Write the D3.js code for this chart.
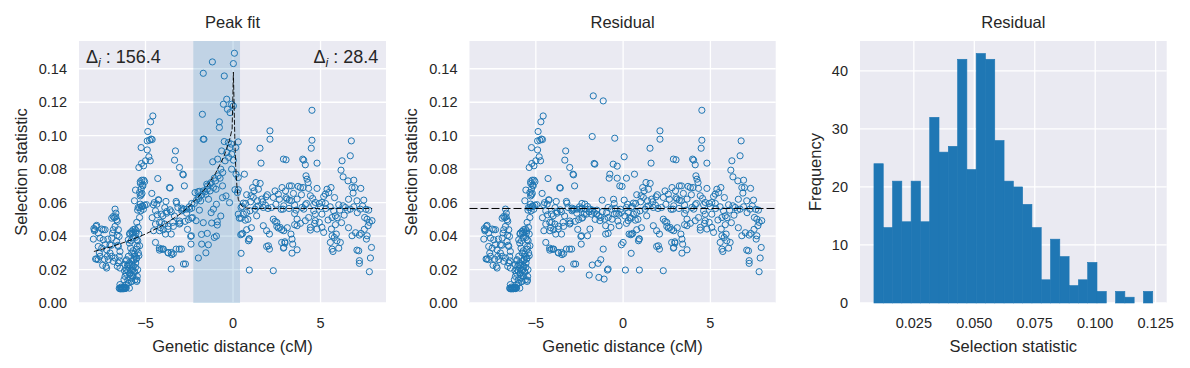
<!DOCTYPE html>
<html>
<head>
<meta charset="utf-8">
<script src="https://cdn.jsdelivr.net/npm/d3@7"></script>
<style>
  body { margin: 0; background: #ffffff; }
  svg text { font-family: "Liberation Sans", Arial, sans-serif; fill: #262626; }
</style>
</head>
<body>
<svg id="fig" width="1190" height="368"></svg>
<script>
// ---- datos ----
// puntos fuera de la ventana del pico (iguales en "Peak fit" y "Residual")
var flankPoints = [
  [-7.98,0.0382],[-7.89,0.0438],[-7.83,0.0458],[-7.79,0.0464],[-7.92,0.0432],[-7.70,0.0418],[-7.60,0.0388],[-7.50,0.0442],
  [-7.41,0.0438],[-7.31,0.0438],[-7.70,0.0338],[-7.64,0.0299],[-7.79,0.0263],[-7.70,0.0259],[-7.60,0.0279],[-7.50,0.0328],
  [-7.41,0.0378],[-7.31,0.0348],[-7.22,0.0318],[-7.18,0.0279],[-7.26,0.0219],[-7.22,0.0209],[-7.12,0.0259],[-7.03,0.0299],
  [-7.03,0.0348],[-6.93,0.0388],[-6.88,0.0418],[-6.84,0.0438],[-6.93,0.0507],[-6.84,0.0517],[-6.74,0.0561],[-6.65,0.0498],
  [-6.69,0.0537],[-6.61,0.0488],[-6.74,0.0458],[-6.55,0.0438],[-6.51,0.0398],[-6.65,0.0368],[-6.55,0.0338],[-6.46,0.0308],
  [-6.50,0.0279],[-6.55,0.0239],[-6.61,0.0219],[-6.46,0.0209],[-6.74,0.0269],[-6.84,0.0249],[-6.93,0.0279],[-7.95,0.0445],
  [-7.85,0.0263],[-7.45,0.0225],[-7.35,0.0262],[-7.15,0.0382],[-6.95,0.0345],[-6.78,0.0510],[-6.70,0.0515],[-6.58,0.0345],
  [-6.62,0.0405],[-6.48,0.0252],
  [-6.50,0.0088],[-6.46,0.0085],[-6.42,0.0086],[-6.38,0.0085],[-6.34,0.0087],[-6.30,0.0085],[-6.26,0.0086],[-6.22,0.0088],
  [-6.18,0.0086],[-6.14,0.0088],[-6.10,0.0090],[-6.46,0.0110],[-6.40,0.0095],[-6.32,0.0092],[-6.24,0.0094],[-6.16,0.0095],
  [-6.23,0.0139],[-6.17,0.0159],[-6.11,0.0179],[-6.08,0.0199],[-6.04,0.0219],[-5.98,0.0229],[-5.92,0.0239],[-5.89,0.0179],
  [-5.85,0.0149],[-5.79,0.0129],[-5.73,0.0199],[-5.70,0.0219],[-5.66,0.0259],[-5.60,0.0279],[-5.79,0.0299],[-5.85,0.0328],
  [-5.92,0.0358],[-5.98,0.0378],[-5.89,0.0418],[-5.79,0.0428],[-5.70,0.0438],[-5.60,0.0442],[-5.54,0.0418],[-5.50,0.0378],
  [-5.47,0.0338],[-5.41,0.0299],[-5.50,0.0269],[-5.56,0.0239],[-5.64,0.0189],[-5.73,0.0159],[-5.60,0.0139],[-5.50,0.0129],
  [-5.47,0.0159],[-5.45,0.0199],[-5.98,0.0279],[-6.08,0.0259],[-6.17,0.0229],[-6.11,0.0109],[-5.98,0.0119],[-5.92,0.0089],
  [-6.10,0.0253],[-6.01,0.0193],[-5.91,0.0223],[-6.20,0.0193],[-5.82,0.0372],[-5.72,0.0392],[-5.91,0.0412],[-5.76,0.0416],
  [-5.69,0.0422],[-5.53,0.0432],[-5.38,0.0412],[-5.57,0.0392],[-5.44,0.0372],[-5.34,0.0342],[-5.50,0.0322],[-5.72,0.0312],
  [-5.63,0.0293],[-5.38,0.0283],[-5.53,0.0263],[-5.69,0.0253],[-5.76,0.0229],[-5.57,0.0213],[-5.82,0.0197],[-5.63,0.0183],
  [-5.91,0.0173],[-5.72,0.0163],[-5.48,0.0137],[-6.01,0.0137],[-5.82,0.0129],
  [-5.42,0.0452],[-5.50,0.0482],[-5.34,0.0511],[-5.27,0.0551],[-5.42,0.0571],[-5.34,0.0571],[-5.15,0.0577],[-5.19,0.0581],
  [-5.30,0.0591],[-5.63,0.0611],[-5.57,0.0675],[-5.25,0.0647],[-5.34,0.0661],[-5.25,0.0681],[-5.15,0.0700],[-5.29,0.0714],
  [-5.10,0.0734],[-5.21,0.0734],[-5.38,0.0810],[-5.11,0.0820],[-5.23,0.0834],[-4.73,0.0850],[-5.00,0.0850],[-4.81,0.0874],
  [-4.90,0.0915],[-5.25,0.0929],[-4.90,0.0969],[-4.77,0.0973],[-4.62,0.0977],[-4.87,0.1025],[-4.71,0.1083],[-4.58,0.1118],
  [-4.68,0.0980],[-5.05,0.0725],[-5.18,0.0705],[-5.12,0.0560],[-5.22,0.0575],[-5.05,0.0585],[-5.45,0.0555],[-5.30,0.0640],
  [-5.20,0.0655],[-5.30,0.0725],[-4.95,0.0588],
  [-4.30,0.0744],[-4.64,0.0655],[-4.24,0.0615],[-4.35,0.0591],[-4.43,0.0551],[-4.10,0.0531],[-4.33,0.0527],[-4.01,0.0521],
  [-3.78,0.0547],[-3.53,0.0545],[-3.25,0.0607],[-3.29,0.0909],[-3.34,0.0854],[-3.06,0.0810],[-2.87,0.0770],[-3.63,0.0690],
  [-3.15,0.0571],[-4.20,0.0482],[-3.91,0.0472],[-4.43,0.0472],[-4.54,0.0432],[-4.20,0.0432],[-3.72,0.0442],[-3.44,0.0482],
  [-3.06,0.0472],[-3.86,0.0412],[-3.53,0.0412],[-4.43,0.0362],[-4.10,0.0322],[-4.20,0.0316],[-4.01,0.0322],[-3.72,0.0302],
  [-3.53,0.0302],[-3.25,0.0322],[-3.53,0.0203],[-3.06,0.0490],[-2.83,0.0233],[-2.84,0.0766],[-2.78,0.0700],[-3.60,0.0687],
  [-4.55,0.0587],[-4.27,0.0617],[-2.42,0.0398],[-2.55,0.0498],[-2.36,0.0507],[-2.36,0.0567],[-2.93,0.0567],[-3.22,0.0597],
  [-3.60,0.0557],[-3.83,0.0607],[-3.79,0.0537],[-4.08,0.0482],[-3.98,0.0438],[-3.70,0.0458],[-3.41,0.0458],[-3.03,0.0478],
  [-2.74,0.0488],[-2.65,0.0537],[-2.88,0.0557],[-4.21,0.0328],[-3.98,0.0322],[-3.70,0.0299],[-3.50,0.0289],[-3.41,0.0295],
  [-3.07,0.0322],[-2.50,0.0575],[-2.65,0.0561],[-2.80,0.0561],[-2.93,0.0551],[-2.72,0.0233],[-2.95,0.0322],[-2.38,0.0402],
  [-2.48,0.0561],[-2.40,0.0352],[-4.62,0.0510],[-4.50,0.0600],[-3.90,0.0570],[-3.35,0.0520],[-4.15,0.0450],[-2.60,0.0440],
  [-2.36,0.0595],[-2.32,0.0511],
  [0.46,0.0297],[0.93,0.0197],[2.30,0.0193],[0.46,0.0507],[0.55,0.0416],[0.50,0.0412],[0.91,0.0382],[0.88,0.0372],
  [0.46,0.0571],[0.72,0.0595],[0.78,0.0647],[1.03,0.0641],[1.12,0.0690],[1.31,0.0720],[1.54,0.0925],[1.60,0.0836],
  [2.11,0.1029],[2.11,0.0979],[2.88,0.0860],[1.16,0.0631],[1.39,0.0611],[1.64,0.0621],[1.89,0.0635],[1.96,0.0647],
  [2.40,0.0670],[2.59,0.0650],[2.30,0.0631],[1.45,0.0581],[1.73,0.0571],[1.26,0.0561],[0.97,0.0551],[0.78,0.0541],
  [0.59,0.0531],[1.35,0.0521],[1.73,0.0462],[1.92,0.0432],[2.08,0.0412],[2.02,0.0342],[2.08,0.0322],[2.30,0.0501],
  [2.50,0.0482],[2.69,0.0452],[2.78,0.0362],[2.20,0.0571],[0.65,0.0770],[0.44,0.0408],[0.93,0.0384],[0.78,0.0438],
  [0.59,0.0597],[0.53,0.0577],[1.92,0.0338],[2.88,0.0328],[2.97,0.0358],[2.78,0.0438],[2.40,0.0488],[2.50,0.0458],
  [2.59,0.0448],[0.85,0.0500],[1.00,0.0605],[1.20,0.0670],[1.45,0.0680],[1.55,0.0715],[1.70,0.0605],[1.85,0.0585],
  [2.00,0.0565],[2.45,0.0590],[2.65,0.0620],[2.75,0.0560],[1.05,0.0450],[1.35,0.0575],[0.70,0.0495],
  [4.51,0.1152],[4.51,0.0973],[4.47,0.0925],[6.76,0.0969],[6.70,0.0880],[3.03,0.0856],[3.98,0.0860],[4.04,0.0854],
  [4.13,0.0826],[4.80,0.0836],[6.23,0.0850],[6.17,0.0794],[6.29,0.0754],[6.57,0.0730],[6.90,0.0734],[4.17,0.0760],
  [4.23,0.0740],[4.29,0.0720],[2.80,0.0690],[3.22,0.0700],[3.34,0.0700],[3.72,0.0697],[3.85,0.0690],[4.32,0.0685],
  [4.80,0.0685],[5.37,0.0680],[5.47,0.0660],[5.28,0.0651],[5.18,0.0637],[6.80,0.0690],[6.95,0.0690],[6.86,0.0657],
  [3.00,0.0670],[3.08,0.0621],[3.22,0.0615],[3.66,0.0621],[3.91,0.0647],[4.42,0.0641],[4.70,0.0601],[4.93,0.0595],
  [5.08,0.0601],[5.28,0.0595],[4.61,0.0587],[4.13,0.0587],[4.04,0.0561],[3.52,0.0585],[2.90,0.0581],[2.86,0.0561],
  [6.04,0.0587],[6.29,0.0581],[6.42,0.0571],[6.70,0.0561],[7.08,0.0611],[7.47,0.0615],[7.27,0.0561],[7.75,0.0555],
  [7.52,0.0511],[7.66,0.0501],[7.94,0.0492],[7.79,0.0482],[3.52,0.0535],[4.70,0.0531],[5.08,0.0531],[5.75,0.0551],
  [5.66,0.0511],[5.85,0.0521],[5.43,0.0496],[4.70,0.0492],[4.93,0.0482],[3.66,0.0501],[3.66,0.0462],[3.85,0.0476],
  [3.52,0.0468],[4.42,0.0452],[4.80,0.0442],[5.08,0.0452],[5.18,0.0422],[5.85,0.0468],[5.62,0.0442],[5.90,0.0412],
  [5.66,0.0402],[5.79,0.0392],[5.94,0.0372],[6.13,0.0362],[5.56,0.0362],[5.66,0.0322],[6.04,0.0328],[5.71,0.0308],
  [6.80,0.0402],[7.31,0.0416],[7.22,0.0406],[7.66,0.0402],[7.72,0.0462],[7.62,0.0382],[7.91,0.0332],[7.08,0.0316],
  [7.18,0.0312],[7.22,0.0253],[7.22,0.0237],[7.85,0.0269],[7.79,0.0187],[3.31,0.0412],[3.37,0.0382],[3.41,0.0352],
  [3.66,0.0318],[3.37,0.0298],[2.90,0.0432],[2.96,0.0366],[2.90,0.0332],[4.42,0.0436],[4.66,0.0476],[4.32,0.0511],
  [4.13,0.0492],[4.61,0.0551],[3.94,0.0571],[3.03,0.0630],[3.34,0.0611],
  [3.20,0.0565],[3.60,0.0555],[4.20,0.0595],[4.55,0.0625],[5.00,0.0575],[5.30,0.0565],[5.55,0.0575],[6.10,0.0555],
  [6.35,0.0525],[6.55,0.0555],[6.90,0.0575],[7.10,0.0540],[7.40,0.0580],[7.60,0.0560],[5.95,0.0510],[6.20,0.0480],
  [6.60,0.0450],[7.00,0.0420],[7.50,0.0440],[3.10,0.0450],[3.45,0.0655],[4.00,0.0690],[5.60,0.0690],[5.80,0.0630],
  [6.60,0.0620],[7.30,0.0685]
];

// puntos dentro de la ventana del pico, panel "Peak fit"
var peakPoints = [
  [0.08,0.1493],[0.02,0.1431],[-1.18,0.1441],[-1.70,0.1373],[-0.50,0.1357],[-0.36,0.1218],[-0.55,0.1188],[-0.08,0.1188],
  [-0.32,0.1158],[-0.17,0.1138],[0.02,0.1178],[-1.75,0.1128],[-0.78,0.1083],[-0.78,0.1049],[-1.70,0.0979],[-1.66,0.0979],
  [-0.50,0.0965],[-0.27,0.0959],[0.30,0.0963],[-0.65,0.0909],[-0.36,0.0899],[-0.08,0.0890],[-0.17,0.0929],[0.15,0.0929],
  [-1.16,0.0844],[-0.88,0.0860],[0.02,0.0854],[-0.08,0.0800],[-0.59,0.0780],[-0.74,0.0746],[-1.07,0.0746],[-1.31,0.0710],
  [-1.50,0.0710],[-1.12,0.0690],[-0.97,0.0680],[-1.47,0.0680],[-1.70,0.0670],[-1.92,0.0667],[-2.17,0.0660],[-1.79,0.0647],
  [-1.98,0.0635],[-2.08,0.0615],[-2.21,0.0595],[-1.31,0.0670],[0.17,0.0770],[0.30,0.0677],[0.11,0.0677],[-1.92,0.0555],
  [-1.12,0.0561],[-2.11,0.0492],[-1.22,0.0478],[-0.90,0.0486],[-0.90,0.0466],[-1.07,0.0392],[-1.47,0.0416],[-1.79,0.0352],
  [-1.41,0.0348],[-1.98,0.0269],[0.36,0.0507],[0.30,0.0531],
  [-1.60,0.0665],[-1.45,0.0700],[-1.25,0.0720],[-1.00,0.0730],[-0.85,0.0760],[-0.70,0.0800],[-0.45,0.0850],[-0.25,0.0870],
  [-0.60,0.0700],[-1.95,0.0625],[-2.00,0.0665],[-1.85,0.0610],[-1.55,0.0650],[-0.40,0.0640],[-0.20,0.0600],[-0.95,0.0590],
  [-1.40,0.0620],[-0.70,0.0520],[-1.70,0.0480],[-1.25,0.0540],[0.25,0.0660],[0.30,0.0750],[-0.10,0.0950],[-1.55,0.0300],
  [-0.95,0.0400],[-1.80,0.0410],[-0.60,0.0630]
];

// los mismos puntos tras restar el pico, panel "Residual"
var peakResidualPoints = [
  [-1.71,0.1238],[-1.14,0.1208],[-1.77,0.0995],[-0.48,0.0985],[-1.66,0.0834],[-1.62,0.0830],[0.06,0.0874],[-0.57,0.0830],
  [-0.34,0.0818],[-0.76,0.0770],[-0.80,0.0746],[-0.34,0.0746],[-0.19,0.0700],[-0.06,0.0697],[0.19,0.0746],[-1.20,0.0615],
  [-0.51,0.0595],[0.06,0.0615],[-0.86,0.0571],[-0.67,0.0561],[-2.19,0.0591],[-2.04,0.0577],[-1.90,0.0561],[-2.23,0.0531],
  [-2.10,0.0531],[-1.81,0.0531],[-1.66,0.0541],[-1.52,0.0531],[-1.39,0.0521],[-1.28,0.0511],[-1.33,0.0492],[-1.05,0.0501],
  [-0.86,0.0511],[-0.63,0.0501],[-0.51,0.0531],[-0.38,0.0535],[-0.25,0.0531],[-0.10,0.0541],[0.19,0.0571],[0.29,0.0492],
  [0.19,0.0476],[0.38,0.0511],[-1.00,0.0462],[-0.70,0.0452],[-0.23,0.0462],[-1.90,0.0442],[-2.04,0.0402],[-0.86,0.0416],
  [-1.00,0.0412],[0.34,0.0412],[-0.10,0.0348],[0.00,0.0362],[-1.14,0.0322],[-1.28,0.0259],[-1.43,0.0237],[-1.77,0.0227],
  [-0.90,0.0197],[-0.86,0.0203],[-1.94,0.0167],[-1.39,0.0153],[-1.09,0.0143],[0.13,0.0197],
  [-1.50,0.0555],[-1.95,0.0545],[-1.20,0.0545],[-0.95,0.0540],[-0.45,0.0565],[-0.15,0.0560],[0.10,0.0520],[0.30,0.0540],
  [-1.60,0.0500],[-0.30,0.0490],[-2.15,0.0560],[-1.75,0.0555],[0.25,0.0590],[-0.55,0.0620]
];

// curva ajustada (linea discontinua del panel 1)
var fitX = [-7.95,-7,-6,-5,-4,-3,-2.5,-2,-1.5,-1,-0.5,-0.2,-0.05,0.02,0.1,0.15,0.22,0.3,0.4,0.55,0.75,1.0,2,4,6,7.95];
var fitY = [0.0308,0.0335,0.0370,0.0412,0.0465,0.0533,0.0578,0.0632,0.0695,0.0775,0.0880,0.0975,0.1040,0.1380,0.0995,
            0.0820,0.0700,0.0620,0.0595,0.0575,0.0568,0.0565,0.0565,0.0565,0.0565,0.0565];

var peakWindow = [-2.27, 0.40];
var baseline = 0.0565;
var deltaLabels = ["156.4", "28.4"];

// histograma de residuos (30 bins)
var histCounts = [24,13,21,14,21,14,32,26,27,42,23,43,42,28,21,20,17,13,4,11,8,3,4,7,2,0,2,1,0,2];
var histRange = [0.0085, 0.1238];

var scatterXTicks = [-5, 0, 5];
var scatterYTicks = [0, 0.02, 0.04, 0.06, 0.08, 0.10, 0.12, 0.14];
var histXTicks = [0.025, 0.050, 0.075, 0.100, 0.125];
var histYTicks = [0, 10, 20, 30, 40];

// ---- dibujo ----
var svg = d3.select("#fig");
var top_ = 41, bottom = 303;
var blue = "#1f77b4";
var minus = function(s) { return s.replace("-", "\u2212"); };

function frame(left, right, x, y, xTicks, yTicks, fx, fy, title, xlabel, ylabel, ylabelX) {
  var g = svg.append("g");
  g.append("rect")
    .attr("x", left).attr("y", top_)
    .attr("width", right - left).attr("height", bottom - top_)
    .attr("fill", "#eaeaf2");
  // rejilla
  g.selectAll(".gx").data(xTicks).enter().append("line")
    .attr("x1", d => x(d)).attr("x2", d => x(d))
    .attr("y1", top_).attr("y2", bottom)
    .attr("stroke", "#fff").attr("stroke-width", 1.3);
  g.selectAll(".gy").data(yTicks).enter().append("line")
    .attr("x1", left).attr("x2", right)
    .attr("y1", d => y(d)).attr("y2", d => y(d))
    .attr("stroke", "#fff").attr("stroke-width", 1.3);
  // etiquetas de ticks
  g.selectAll(".tx").data(xTicks).enter().append("text")
    .attr("x", d => x(d)).attr("y", 327.7)
    .attr("text-anchor", "middle").style("font-size", "14.5px")
    .text(d => minus(fx(d)));
  g.selectAll(".ty").data(yTicks).enter().append("text")
    .attr("x", left - 12).attr("y", d => y(d)).attr("dy", "0.36em")
    .attr("text-anchor", "end").style("font-size", "14.5px")
    .text(d => fy(d));
  // titulos
  g.append("text").attr("x", (left + right) / 2).attr("y", 28.3)
    .attr("text-anchor", "middle").style("font-size", "16.5px").text(title);
  g.append("text").attr("x", (left + right) / 2).attr("y", 352)
    .attr("text-anchor", "middle").style("font-size", "16.5px").text(xlabel);
  g.append("text")
    .attr("transform", "translate(" + ylabelX + "," + ((top_ + bottom) / 2) + ") rotate(-90)")
    .attr("text-anchor", "middle").style("font-size", "16.5px").text(ylabel);
  return g;
}

function scatter(g, pts, x, y) {
  g.selectAll(null).data(pts).enter().append("circle")
    .attr("cx", d => x(d[0])).attr("cy", d => y(d[1]))
    .attr("r", 3.1)
    .attr("fill", "none").attr("stroke", blue).attr("stroke-width", 1);
}

var fmt2 = d3.format(".2f");
var fmtInt = d3.format("d");

// Panel 1: Peak fit
var x1 = d3.scaleLinear().domain([-8.8, 8.74]).range([79, 386]);
var y1 = d3.scaleLinear().domain([0, 0.1566]).range([bottom, top_]);
var g1 = frame(79, 386, x1, y1, scatterXTicks, scatterYTicks, fmtInt, fmt2,
  "Peak fit", "Genetic distance (cM)", "Selection statistic", 26.8);

g1.append("rect")
  .attr("x", x1(peakWindow[0])).attr("y", top_)
  .attr("width", x1(peakWindow[1]) - x1(peakWindow[0])).attr("height", bottom - top_)
  .attr("fill", blue).attr("fill-opacity", 0.2);

scatter(g1, flankPoints, x1, y1);
scatter(g1, peakPoints, x1, y1);

var fitLine = d3.line().x(d => x1(d[0])).y(d => y1(d[1]));
g1.append("path")
  .datum(d3.zip(fitX, fitY))
  .attr("d", fitLine)
  .attr("fill", "none").attr("stroke", "#000").attr("stroke-width", 0.9)
  .attr("stroke-dasharray", "5,2");

var tl = g1.append("text").attr("x", 86).attr("y", 62.7).style("font-size", "18px");
tl.append("tspan").text("\u0394");
tl.append("tspan").attr("dy", 4).style("font-style", "italic").style("font-size", "12.5px").text("i");
tl.append("tspan").attr("dy", -4).text(" : " + deltaLabels[0]);

var tr = g1.append("text").attr("x", 378.3).attr("y", 62.7).attr("text-anchor", "end").style("font-size", "18px");
tr.append("tspan").text("\u0394");
tr.append("tspan").attr("dy", 4).style("font-style", "italic").style("font-size", "12.5px").text("i");
tr.append("tspan").attr("dy", -4).text(" : " + deltaLabels[1]);

// Panel 2: Residual
var x2 = d3.scaleLinear().domain([-8.8, 8.74]).range([469.5, 775.7]);
var y2 = d3.scaleLinear().domain([0, 0.1566]).range([bottom, top_]);
var g2 = frame(469.5, 775.7, x2, y2, scatterXTicks, scatterYTicks, fmtInt, fmt2,
  "Residual", "Genetic distance (cM)", "Selection statistic", 416.8);

scatter(g2, flankPoints, x2, y2);
scatter(g2, peakResidualPoints, x2, y2);

g2.append("line")
  .attr("x1", 469.5).attr("x2", 775.7)
  .attr("y1", y2(baseline)).attr("y2", y2(baseline))
  .attr("stroke", "#000").attr("stroke-width", 1)
  .attr("stroke-dasharray", "8,3");

// Panel 3: histograma
var x3 = d3.scaleLinear().domain([0.00273, 0.12957]).range([860, 1166.7]);
var y3 = d3.scaleLinear().domain([0, 45.15]).range([bottom, top_]);
var g3 = frame(860, 1166.7, x3, y3, histXTicks, histYTicks, d3.format(".3f"), fmtInt,
  "Residual", "Selection statistic", "Frequency", 821);

var binW = (histRange[1] - histRange[0]) / histCounts.length;
var bins = histCounts.map(function(c, i) {
  return { x0: histRange[0] + i * binW, x1: histRange[0] + (i + 1) * binW, n: c };
});
g3.selectAll(".bar").data(bins.filter(b => b.n > 0)).enter().append("rect")
  .attr("class", "bar")
  .attr("x", d => x3(d.x0))
  .attr("width", d => x3(d.x1) - x3(d.x0))
  .attr("y", d => y3(d.n))
  .attr("height", d => y3(0) - y3(d.n))
  .attr("fill", blue)
  .attr("stroke", blue).attr("stroke-width", 0.6);
</script>
</body>
</html>
